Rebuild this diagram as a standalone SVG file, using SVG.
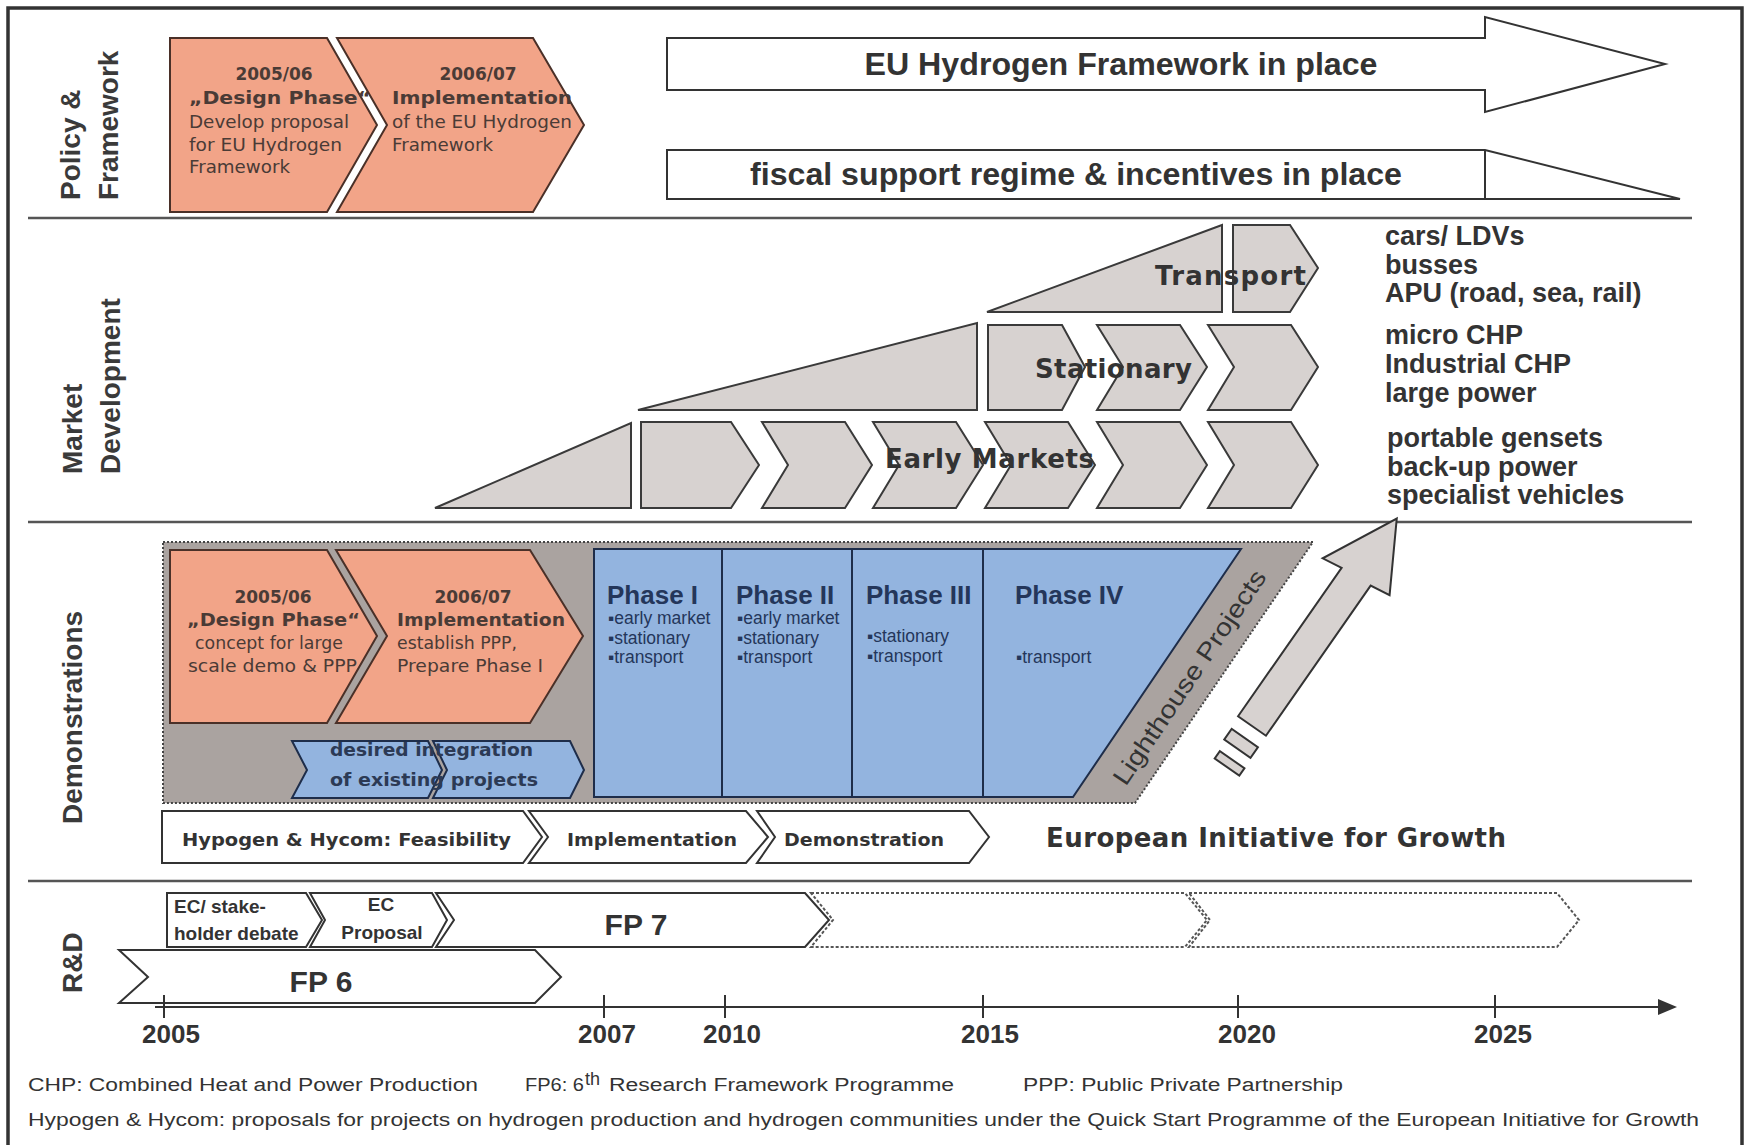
<svg xmlns="http://www.w3.org/2000/svg" width="1750" height="1145" viewBox="0 0 1750 1145">
<defs>
<style>
text{font-family:"Liberation Sans",Arial,sans-serif;fill:#333}
.sec{font-size:28px;font-weight:bold;fill:#3a3a3a}
.org{fill:#f2a488;stroke:#4a3028;stroke-width:2}
.ot{font-family:"DejaVu Sans",sans-serif;font-size:17px;fill:#4a3b36}
.otb{font-family:"DejaVu Sans",sans-serif;font-size:17px;font-weight:bold;fill:#4a3b36}
.wa{fill:#fff;stroke:#333;stroke-width:2}
.big{font-size:31px;font-weight:bold;text-anchor:middle}
.mk{fill:#d7d2d0;stroke:#3a3a3a;stroke-width:2}
.mkt{font-family:"DejaVu Sans",sans-serif;font-size:26px;font-weight:bold;fill:#333}
.lst{font-size:27px;font-weight:bold}
.blue{fill:#93b4df;stroke:#1e2d4a;stroke-width:2}
.bt{font-family:"DejaVu Sans",sans-serif;font-size:17px;font-weight:bold;fill:#2c3a55}
.ph{font-size:26px;font-weight:bold;fill:#24365a}
.bul{font-size:17.5px;fill:#24365a}
.wc{fill:#fff;stroke:#333;stroke-width:2}
.hy{font-family:"DejaVu Sans",sans-serif;font-size:17px;font-weight:bold}
.ec{font-size:19px;font-weight:bold}
.fp{font-size:30px;font-weight:bold;text-anchor:middle}
.dot{fill:#fff;stroke:#555;stroke-width:2;stroke-dasharray:3 2}
.yr{font-size:26px;font-weight:bold;text-anchor:middle}
.ft{font-family:"Liberation Sans",Arial,sans-serif;font-size:18px}
.div{stroke:#555;stroke-width:2.5}
.tick{stroke:#333;stroke-width:2}
</style>
</defs>
<rect x="0" y="0" width="1750" height="1145" fill="#fff"/>
<rect x="8" y="8" width="1734" height="1145" fill="none" stroke="#333" stroke-width="3.5"/>

<g id="dividers">
<line class="div" x1="28" y1="218" x2="1692" y2="218"/>
<line class="div" x1="28" y1="522" x2="1692" y2="522"/>
<line class="div" x1="28" y1="881" x2="1692" y2="881"/>
</g>

<g id="section-labels">
<text class="sec" transform="translate(80,200) rotate(-90)">Policy &amp;</text>
<text class="sec" transform="translate(118,200) rotate(-90)">Framework</text>
<text class="sec" transform="translate(82,474) rotate(-90)">Market</text>
<text class="sec" transform="translate(120,474) rotate(-90)">Development</text>
<text class="sec" transform="translate(82,824) rotate(-90)">Demonstrations</text>
<text class="sec" transform="translate(82,993) rotate(-90)">R&amp;D</text>
</g>

<!-- Policy & Framework -->
<g id="policy-design">
<polygon class="org" points="170,38 327,38 377,125 327,212 170,212"/>
<text class="otb" x="274" y="80" text-anchor="middle">2005/06</text>
<text class="otb" x="189" y="104" textLength="182" lengthAdjust="spacingAndGlyphs">„Design Phase“</text>
<text class="ot" x="189" y="128" textLength="160" lengthAdjust="spacingAndGlyphs">Develop proposal</text>
<text class="ot" x="189" y="151" textLength="153" lengthAdjust="spacingAndGlyphs">for EU Hydrogen</text>
<text class="ot" x="189" y="173" textLength="101" lengthAdjust="spacingAndGlyphs">Framework</text>
</g>
<g id="policy-implementation">
<polygon class="org" points="337,38 533,38 584,125 533,212 337,212 387,125"/>
<text class="otb" x="478" y="80" text-anchor="middle">2006/07</text>
<text class="otb" x="392" y="104" textLength="180" lengthAdjust="spacingAndGlyphs">Implementation</text>
<text class="ot" x="392" y="128" textLength="180" lengthAdjust="spacingAndGlyphs">of the EU Hydrogen</text>
<text class="ot" x="392" y="151" textLength="101" lengthAdjust="spacingAndGlyphs">Framework</text>
</g>
<g id="eu-framework">
<polygon class="wa" points="667,38 1485,38 1485,17 1665,64 1485,112 1485,90 667,90"/>
<text class="big" x="1121" y="75" textLength="513" lengthAdjust="spacingAndGlyphs">EU Hydrogen Framework in place</text>
</g>
<g id="fiscal-support">
<polygon class="wa" points="667,150 1485,150 1680,199 667,199"/>
<line x1="1485" y1="150" x2="1485" y2="199" stroke="#333" stroke-width="2"/>
<text class="big" x="1076" y="185" textLength="652" lengthAdjust="spacingAndGlyphs">fiscal support regime &amp; incentives in place</text>
</g>

<!-- Market Development -->
<g id="transport">
<polygon class="mk" points="987,312 1222,225 1222,312"/>
<polygon class="mk" points="1233,225 1290,225 1318,268 1290,312 1233,312"/>
<text class="mkt" x="1155" y="285" textLength="151">Transport</text>
</g>
<g id="stationary">
<polygon class="mk" points="638,410 977,323 977,410"/>
<polygon class="mk" points="988,325 1062,325 1085,367 1062,410 988,410"/>
<polygon class="mk" points="1097,325 1180,325 1207,367 1180,410 1097,410 1123,367"/>
<polygon class="mk" points="1208,325 1291,325 1318,367 1291,410 1208,410 1234,367"/>
<text class="mkt" x="1035" y="378" textLength="157">Stationary</text>
</g>
<g id="early-markets">
<polygon class="mk" points="435,508 631,423 631,508"/>
<polygon class="mk" points="641,422 731,422 759,465 731,508 641,508"/>
<polygon class="mk" points="762,422 845,422 872,465 845,508 762,508 788,465"/>
<polygon class="mk" points="873,422 956,422 983,465 956,508 873,508 899,465"/>
<polygon class="mk" points="985,422 1068,422 1095,465 1068,508 985,508 1011,465"/>
<polygon class="mk" points="1097,422 1180,422 1207,465 1180,508 1097,508 1123,465"/>
<polygon class="mk" points="1208,422 1291,422 1318,465 1291,508 1208,508 1234,465"/>
<text class="mkt" x="885" y="468" textLength="209">Early Markets</text>
</g>
<g id="transport-list">
<text class="lst" x="1385" y="245">cars/ LDVs</text>
<text class="lst" x="1385" y="274">busses</text>
<text class="lst" x="1385" y="302">APU (road, sea, rail)</text>
</g>
<g id="stationary-list">
<text class="lst" x="1385" y="344">micro CHP</text>
<text class="lst" x="1385" y="373">Industrial CHP</text>
<text class="lst" x="1385" y="402">large power</text>
</g>
<g id="early-list">
<text class="lst" x="1387" y="447">portable gensets</text>
<text class="lst" x="1387" y="476">back-up power</text>
<text class="lst" x="1387" y="504">specialist vehicles</text>
</g>

<!-- Demonstrations -->
<g id="demo-background">
<polygon points="163,542 1313,542 1135,803 163,803" fill="#aaa3a0" stroke="#444" stroke-width="2" stroke-dasharray="2 2"/>
<text font-family="DejaVu Sans, sans-serif" font-size="25" fill="#333" text-anchor="middle" transform="translate(1189,677) rotate(-56)" y="9" textLength="253" lengthAdjust="spacingAndGlyphs">Lighthouse Projects</text>
</g>
<g id="demo-design">
<polygon class="org" points="170,550 327,550 377,636 327,723 170,723"/>
<text class="otb" x="273" y="603" text-anchor="middle">2005/06</text>
<text class="otb" x="187" y="626" textLength="173" lengthAdjust="spacingAndGlyphs">„Design Phase“</text>
<text class="ot" x="195" y="649" textLength="148" lengthAdjust="spacingAndGlyphs">concept for large</text>
<text class="ot" x="188" y="672" textLength="169" lengthAdjust="spacingAndGlyphs">scale demo &amp; PPP</text>
</g>
<g id="demo-implementation">
<polygon class="org" points="336,550 530,550 583,636 530,723 336,723 387,636"/>
<text class="otb" x="473" y="603" text-anchor="middle">2006/07</text>
<text class="otb" x="397" y="626" textLength="168" lengthAdjust="spacingAndGlyphs">Implementation</text>
<text class="ot" x="397" y="649" textLength="120" lengthAdjust="spacingAndGlyphs">establish PPP,</text>
<text class="ot" x="397" y="672" textLength="146" lengthAdjust="spacingAndGlyphs">Prepare Phase I</text>
</g>
<g id="existing-projects">
<polygon class="blue" points="292,741 428,741 442,770 428,798 292,798 307,770"/>
<polygon class="blue" points="433,741 570,741 584,770 570,798 433,798 447,770"/>
<text class="bt" x="330" y="756" textLength="203" lengthAdjust="spacingAndGlyphs">desired integration</text>
<text class="bt" x="330" y="786" textLength="208" lengthAdjust="spacingAndGlyphs">of existing projects</text>
</g>
<g id="phases">
<polygon class="blue" points="594,549 1241,549 1073,797 594,797"/>
<line x1="722" y1="549" x2="722" y2="797" stroke="#1e2d4a" stroke-width="2"/>
<line x1="852" y1="549" x2="852" y2="797" stroke="#1e2d4a" stroke-width="2"/>
<line x1="983" y1="549" x2="983" y2="797" stroke="#1e2d4a" stroke-width="2"/>
<text class="ph" x="607" y="604">Phase I</text>
<text class="bul" x="608" y="624">▪early market</text>
<text class="bul" x="608" y="644">▪stationary</text>
<text class="bul" x="608" y="663">▪transport</text>
<text class="ph" x="736" y="604">Phase II</text>
<text class="bul" x="737" y="624">▪early market</text>
<text class="bul" x="737" y="644">▪stationary</text>
<text class="bul" x="737" y="663">▪transport</text>
<text class="ph" x="866" y="604">Phase III</text>
<text class="bul" x="867" y="642">▪stationary</text>
<text class="bul" x="867" y="662">▪transport</text>
<text class="ph" x="1015" y="604">Phase IV</text>
<text class="bul" x="1016" y="663">▪transport</text>
</g>
<g id="growth-arrow" transform="translate(1252,726) rotate(-55.1)">
<polygon points="0,-17 181,-17 178,-38 253,0 186,38 183,17 0,17" fill="#d7d2d0" stroke="#333" stroke-width="2"/>
<rect x="-27" y="-15" width="13" height="32" fill="#d7d2d0" stroke="#333" stroke-width="2"/>
<rect x="-48" y="-12" width="9" height="30" fill="#d7d2d0" stroke="#333" stroke-width="2"/>
</g>
<g id="hypogen">
<polygon class="wc" points="162,811 523,811 542,837 523,863 162,863"/>
<text class="hy" x="182" y="846" textLength="329" lengthAdjust="spacingAndGlyphs">Hypogen &amp; Hycom: Feasibility</text>
</g>
<g id="implementation-step">
<polygon class="wc" points="529,811 746,811 768,837 746,863 529,863 548,837"/>
<text class="hy" x="567" y="846" textLength="170" lengthAdjust="spacingAndGlyphs">Implementation</text>
</g>
<g id="demonstration-step">
<polygon class="wc" points="757,811 969,811 989,837 969,863 757,863 775,837"/>
<text class="hy" x="784" y="846" textLength="160" lengthAdjust="spacingAndGlyphs">Demonstration</text>
</g>
<text id="european-initiative" class="mkt" x="1046" y="847" textLength="460">European Initiative for Growth</text>

<!-- R&D -->
<g id="ec-debate">
<polygon class="wc" points="167,893 306,893 322,920 306,947 167,947"/>
<text class="ec" x="174" y="913">EC/ stake-</text>
<text class="ec" x="174" y="940">holder debate</text>
</g>
<g id="ec-proposal">
<polygon class="wc" points="310,893 432,893 447,920 432,947 310,947 325,920"/>
<text class="ec" x="381" y="911" text-anchor="middle">EC</text>
<text class="ec" x="382" y="939" text-anchor="middle">Proposal</text>
</g>
<g id="fp7">
<polygon class="wc" points="436,893 805,893 829,920 805,947 436,947 454,920"/>
<text class="fp" x="636" y="935">FP 7</text>
</g>
<g id="fp-next">
<polygon class="dot" points="811,893 1185,893 1207,920 1185,947 811,947 833,920"/>
<polygon class="dot" points="1189,893 1557,893 1579,920 1557,947 1189,947 1210,920"/>
</g>
<g id="fp6">
<polygon class="wc" points="119,950 535,950 561,977 535,1003 119,1003 148,977"/>
<text class="fp" x="321" y="992">FP 6</text>
</g>

<g id="timeline">
<line x1="155" y1="1007" x2="1662" y2="1007" stroke="#333" stroke-width="2"/>
<polygon points="1658,999 1677,1007 1658,1015" fill="#333"/>
<line class="tick" x1="164" y1="995" x2="164" y2="1018"/>
<line class="tick" x1="604" y1="995" x2="604" y2="1018"/>
<line class="tick" x1="725" y1="995" x2="725" y2="1018"/>
<line class="tick" x1="983" y1="995" x2="983" y2="1018"/>
<line class="tick" x1="1238" y1="995" x2="1238" y2="1018"/>
<line class="tick" x1="1495" y1="995" x2="1495" y2="1018"/>
<text class="yr" x="171" y="1043">2005</text>
<text class="yr" x="607" y="1043">2007</text>
<text class="yr" x="732" y="1043">2010</text>
<text class="yr" x="990" y="1043">2015</text>
<text class="yr" x="1247" y="1043">2020</text>
<text class="yr" x="1503" y="1043">2025</text>
</g>

<g id="footnotes">
<text class="ft" x="28" y="1091" textLength="450" lengthAdjust="spacingAndGlyphs">CHP: Combined Heat and Power Production</text>
<text class="ft" x="525" y="1091" textLength="59" lengthAdjust="spacingAndGlyphs">FP6: 6</text>
<text class="ft" x="585" y="1085" font-size="10">th</text>
<text class="ft" x="609" y="1091" textLength="345" lengthAdjust="spacingAndGlyphs">Research Framework Programme</text>
<text class="ft" x="1023" y="1091" textLength="320" lengthAdjust="spacingAndGlyphs">PPP: Public Private Partnership</text>
<text class="ft" x="28" y="1126" textLength="1671" lengthAdjust="spacingAndGlyphs">Hypogen &amp; Hycom: proposals for projects on hydrogen production and hydrogen communities under the Quick Start Programme of the European Initiative for Growth</text>
</g>
</svg>
